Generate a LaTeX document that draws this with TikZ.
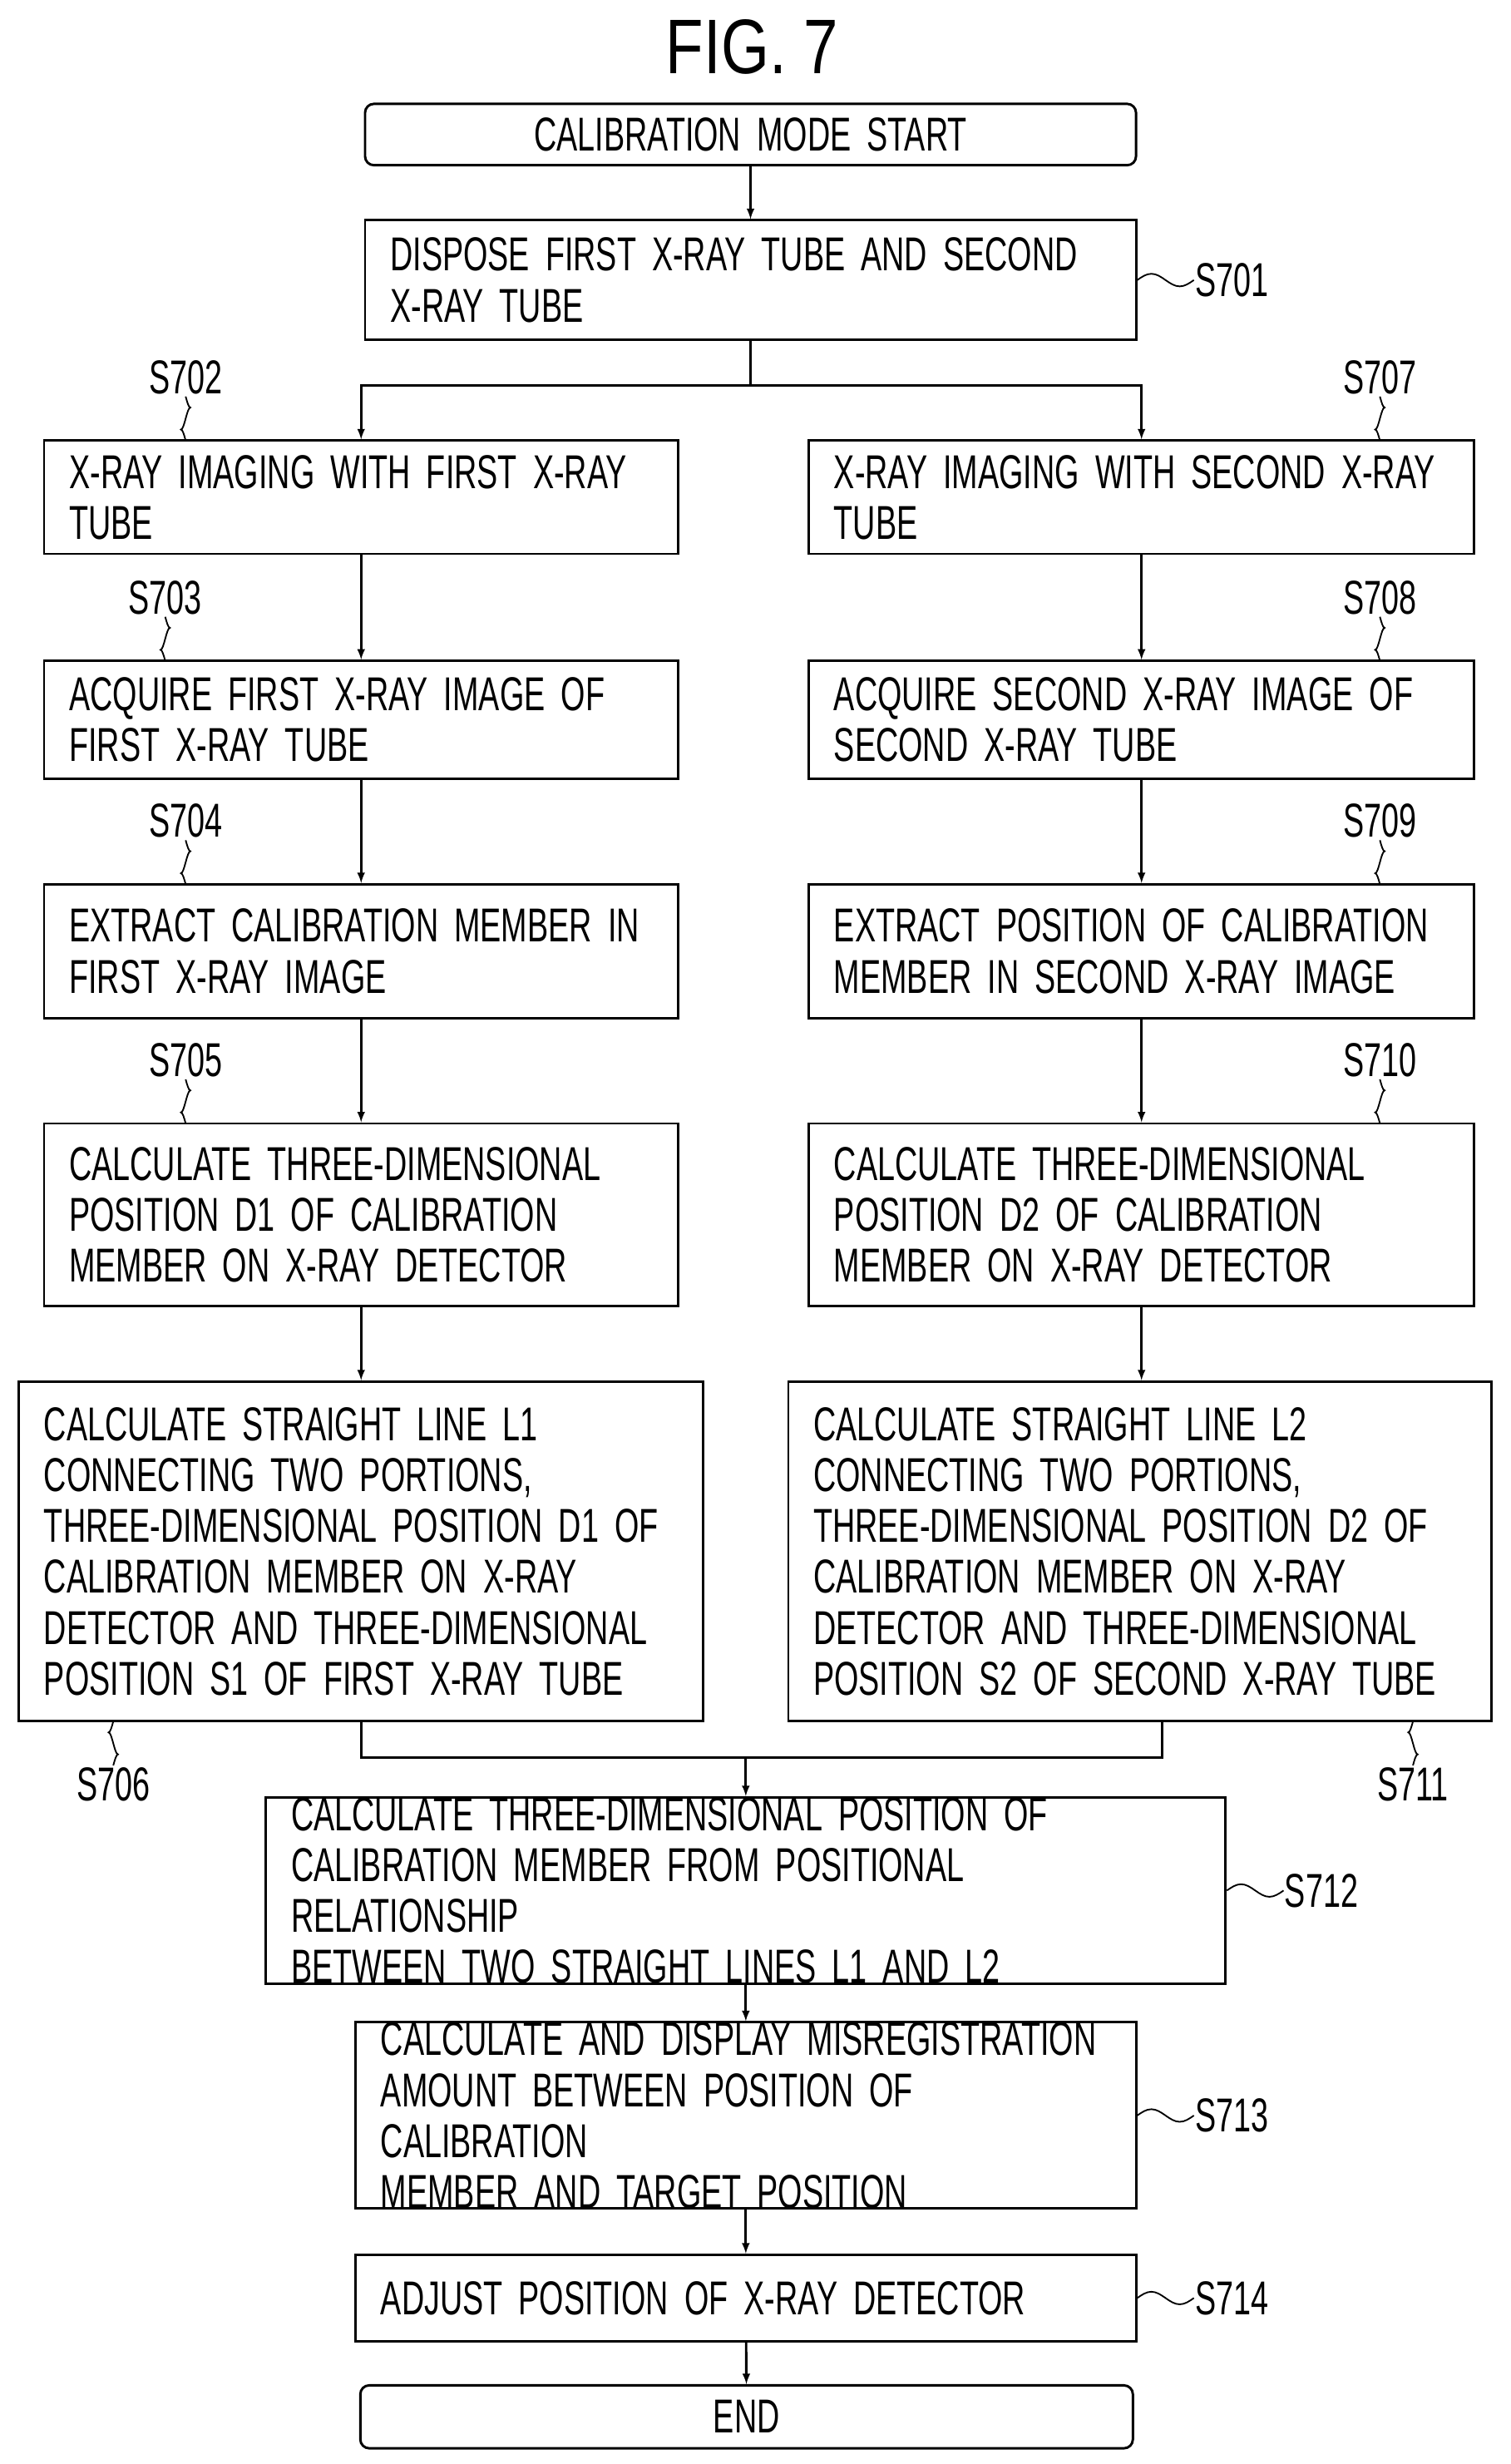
\documentclass[tikz,border=0pt]{standalone}
\usepackage{fontspec}
\setmainfont[FakeStretch=0.66,WordSpace=0.55]{Liberation Sans}
\newfontfamily\titlefont[FakeStretch=0.8]{Liberation Sans}
\usetikzlibrary{arrows,positioning}
\hyphenpenalty=10000

\tikzset{
  box/.style={draw, line width=2.2pt, inner xsep=0.8cm, inner ysep=0pt, align=left,
    font=\fontsize{43}{46}\selectfont},
  term/.style={box, rounded corners=8pt, align=center},
  lbl/.style={font=\fontsize{43}{46}\selectfont, inner sep=2pt},
  line/.style={line width=2.2pt},
  arr/.style={line, -latex}
}

\begin{document}
\begin{tikzpicture}[x=0.05cm, y=-0.05cm]
  \useasboundingbox (0,0) rectangle (960,1566);

  % Title
  \node[font=\titlefont\fontsize{70}{72}\selectfont] (title) at (478,30) {FIG. 7};

  % Boxes
  \node[term, minimum width=24.5cm, minimum height=1.95cm, text width=22.9cm] (start) at (477,85.5) {CALIBRATION MODE START};
  \node[box, minimum height=3.8cm, text width=22.9cm] (s701) at (477,178) {DISPOSE FIRST X-RAY TUBE AND SECOND\\X-RAY TUBE};

  \node[box, minimum height=3.6cm, text width=18.55cm] (s702) at (229.5,316) {X-RAY IMAGING WITH FIRST X-RAY\\TUBE};
  \node[box, minimum height=3.75cm, text width=18.55cm] (s703) at (229.5,457.5) {ACQUIRE FIRST X-RAY IMAGE OF\\FIRST X-RAY TUBE};
  \node[box, minimum height=4.25cm, text width=18.55cm] (s704) at (229.5,604.5) {EXTRACT CALIBRATION MEMBER IN\\FIRST X-RAY IMAGE};
  \node[box, minimum height=5.8cm, text width=18.55cm] (s705) at (229.5,772) {CALCULATE THREE-DIMENSIONAL\\POSITION D1 OF CALIBRATION\\MEMBER ON X-RAY DETECTOR};
  \node[box, minimum height=10.8cm, text width=20.15cm] (s706) at (229.5,986) {CALCULATE STRAIGHT LINE L1\\CONNECTING TWO PORTIONS,\\THREE-DIMENSIONAL POSITION D1 OF\\CALIBRATION MEMBER ON X-RAY\\DETECTOR AND THREE-DIMENSIONAL\\POSITION S1 OF FIRST X-RAY TUBE};

  \node[box, minimum height=3.6cm, text width=19.55cm] (s707) at (725.5,316) {X-RAY IMAGING WITH SECOND X-RAY\\TUBE};
  \node[box, minimum height=3.75cm, text width=19.55cm] (s708) at (725.5,457.5) {ACQUIRE SECOND X-RAY IMAGE OF\\SECOND X-RAY TUBE};
  \node[box, minimum height=4.25cm, text width=19.55cm] (s709) at (725.5,604.5) {EXTRACT POSITION OF CALIBRATION\\MEMBER IN SECOND X-RAY IMAGE};
  \node[box, minimum height=5.8cm, text width=19.55cm] (s710) at (725.5,772) {CALCULATE THREE-DIMENSIONAL\\POSITION D2 OF CALIBRATION\\MEMBER ON X-RAY DETECTOR};
  \node[box, minimum height=10.8cm, text width=20.75cm] (s711) at (724.5,986) {CALCULATE STRAIGHT LINE L2\\CONNECTING TWO PORTIONS,\\THREE-DIMENSIONAL POSITION D2 OF\\CALIBRATION MEMBER ON X-RAY\\DETECTOR AND THREE-DIMENSIONAL\\POSITION S2 OF SECOND X-RAY TUBE};

  \node[box, minimum height=5.45cm, text width=28.9cm] (s712) at (474,1201.5) {CALCULATE THREE-DIMENSIONAL POSITION OF\\CALIBRATION MEMBER FROM POSITIONAL RELATIONSHIP\\BETWEEN TWO STRAIGHT LINES L1 AND L2};
  \node[box, minimum height=5.75cm, text width=23.2cm] (s713) at (474,1344.5) {CALCULATE AND DISPLAY MISREGISTRATION\\AMOUNT BETWEEN POSITION OF CALIBRATION\\MEMBER AND TARGET POSITION};
  \node[box, minimum height=2.75cm, text width=23.2cm] (s714) at (474,1460.5) {ADJUST POSITION OF X-RAY DETECTOR};
  \node[term, minimum height=2.0cm, text width=22.95cm] (end) at (474.5,1536) {END};

  % Step labels
  \node[lbl, anchor=west] (l701) at (758,178) {S701};
  \node[lbl, anchor=south] (l702) at (118,252) {S702};
  \node[lbl, anchor=south] (l703) at (105,392) {S703};
  \node[lbl, anchor=south] (l704) at (118,534) {S704};
  \node[lbl, anchor=south] (l705) at (118,686) {S705};
  \node[lbl, anchor=north] (l706) at (72,1122) {S706};
  \node[lbl, anchor=south] (l707) at (877,252) {S707};
  \node[lbl, anchor=south] (l708) at (877,392) {S708};
  \node[lbl, anchor=south] (l709) at (877,534) {S709};
  \node[lbl, anchor=south] (l710) at (877,686) {S710};
  \node[lbl, anchor=north] (l711) at (898,1122) {S711};
  \node[lbl, anchor=west] (l712) at (815,1201.5) {S712};
  \node[lbl, anchor=west] (l713) at (758,1344.5) {S713};
  \node[lbl, anchor=west] (l714) at (758,1460.5) {S714};

  % Squiggles
  \foreach \b in {701,712,713,714}
    \draw[line width=1.4pt] (s\b.east) sin ++(9,-4) cos ++(9,4) sin ++(9,4) cos ++(9,-4);
  \foreach \b in {702,703,704,705,707,708,709,710}
    \draw[line width=1.4pt] (l\b.south) sin ++(3,7) cos ++(-3,7) sin ++(-3,7) cos ++(3,7);
  \foreach \b in {706,711}
    \draw[line width=1.4pt] (l\b.north) sin ++(3,-7) cos ++(-3,-7) sin ++(-3,-7) cos ++(3,-7);

  % Connect the nodes
  \draw[arr] (start) -- (s701);
  \draw[line] (s701.south) -- ++(0,28) coordinate (split);
  \draw[arr] (split) -| (s702.north);
  \draw[arr] (split) -| (s707.north);
  \draw[arr] (s702) -- (s703);
  \draw[arr] (s703) -- (s704);
  \draw[arr] (s704) -- (s705);
  \draw[arr] (s705) -- (s706);
  \draw[arr] (s707.south -| s708.north) -- (s708.north);
  \draw[arr] (s708) -- (s709);
  \draw[arr] (s709) -- (s710);
  \draw[arr] (s710.south) -- (s710.south |- s711.north);
  \draw[line] (s706.south) -- ++(0,22) coordinate (jl) -| ([xshift=0.7cm]s711.south);
  \draw[arr] (jl -| s712.north) -- (s712.north);
  \draw[arr] (s712) -- (s713);
  \draw[arr] (s713) -- (s714);
  \draw[arr] (s714) -- (end);

\end{tikzpicture}
\end{document}
